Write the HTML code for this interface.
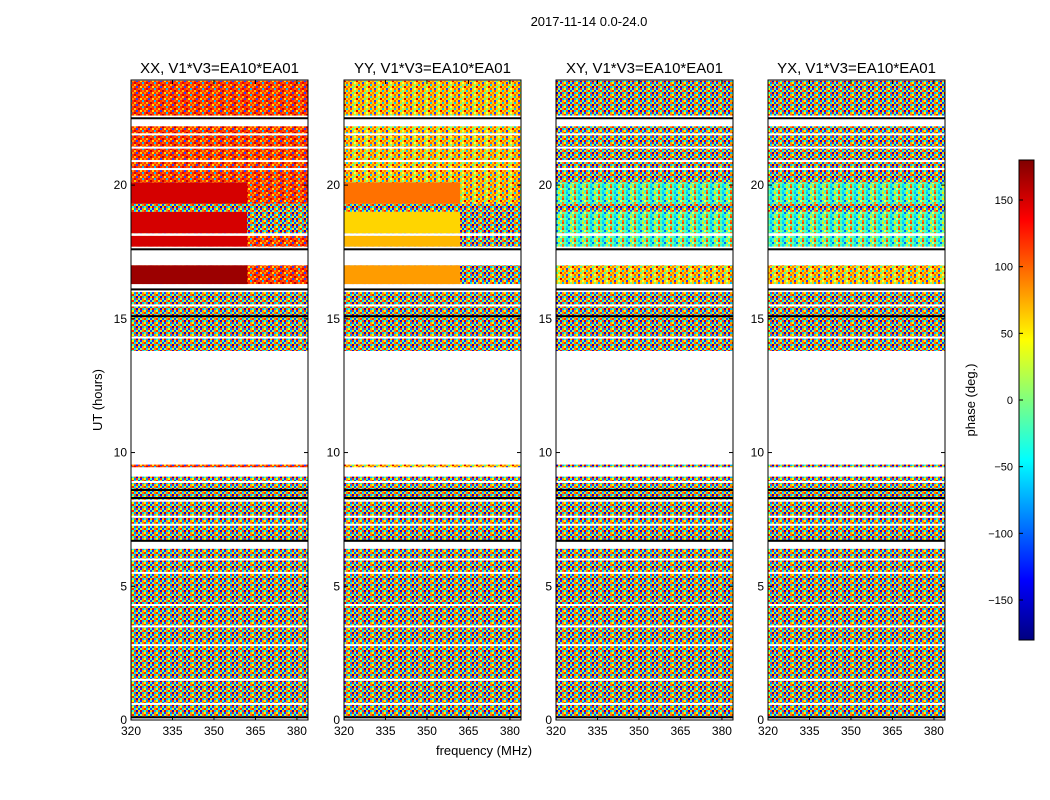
<!DOCTYPE html>
<html><head><meta charset="utf-8"><style>
body{margin:0;background:#fff;}
svg{display:block;font-family:"Liberation Sans","DejaVu Sans",sans-serif;}
</style></head><body>
<svg id="fig" width="1050" height="800" viewBox="0 0 1050 800">
<defs>
<pattern id="mixed" width="12" height="6" patternUnits="userSpaceOnUse">
<rect x="0" y="0" width="2" height="2" fill="#ff2000"/><rect x="2" y="0" width="2" height="2" fill="#00e0ff"/><rect x="4" y="0" width="2" height="2" fill="#ffe000"/><rect x="6" y="0" width="2" height="2" fill="#0040ff"/><rect x="8" y="0" width="2" height="2" fill="#80ff80"/><rect x="10" y="0" width="2" height="2" fill="#ff8000"/>
<rect x="0" y="2" width="2" height="2" fill="#40ffb0"/><rect x="2" y="2" width="2" height="2" fill="#ff6000"/><rect x="4" y="2" width="2" height="2" fill="#0000e0"/><rect x="6" y="2" width="2" height="2" fill="#ffc000"/><rect x="8" y="2" width="2" height="2" fill="#e00000"/><rect x="10" y="2" width="2" height="2" fill="#00b0ff"/>
<rect x="0" y="4" width="2" height="2" fill="#f0ff00"/><rect x="2" y="4" width="2" height="2" fill="#0080ff"/><rect x="4" y="4" width="2" height="2" fill="#ff3000"/><rect x="6" y="4" width="2" height="2" fill="#40ffc0"/><rect x="8" y="4" width="2" height="2" fill="#2020ff"/><rect x="10" y="4" width="2" height="2" fill="#ffa000"/>
</pattern>
<pattern id="warm" width="12" height="6" patternUnits="userSpaceOnUse">
<rect width="12" height="6" fill="#ff3000"/>
<rect x="2" y="0" width="2" height="2" fill="#ffc000"/><rect x="6" y="0" width="2" height="2" fill="#c00000"/><rect x="10" y="0" width="2" height="2" fill="#ff8000"/>
<rect x="0" y="2" width="2" height="2" fill="#ff9000"/><rect x="4" y="2" width="2" height="2" fill="#2040ff"/><rect x="8" y="2" width="2" height="2" fill="#ffe000"/>
<rect x="2" y="4" width="2" height="2" fill="#e00000"/><rect x="6" y="4" width="2" height="2" fill="#ff6000"/><rect x="10" y="4" width="2" height="2" fill="#00c0ff"/>
</pattern>
<pattern id="yel" width="12" height="6" patternUnits="userSpaceOnUse">
<rect width="12" height="6" fill="#ffd000"/>
<rect x="2" y="0" width="2" height="2" fill="#ff4000"/><rect x="6" y="0" width="2" height="2" fill="#80ff80"/><rect x="10" y="0" width="2" height="2" fill="#00c0ff"/>
<rect x="0" y="2" width="2" height="2" fill="#ff8000"/><rect x="4" y="2" width="2" height="2" fill="#40ffb0"/><rect x="8" y="2" width="2" height="2" fill="#e00000"/>
<rect x="2" y="4" width="2" height="2" fill="#2040ff"/><rect x="6" y="4" width="2" height="2" fill="#ffff40"/><rect x="10" y="4" width="2" height="2" fill="#ff6000"/>
</pattern>
<pattern id="cool" width="12" height="6" patternUnits="userSpaceOnUse">
<rect width="12" height="6" fill="#40ffc0"/>
<rect x="2" y="0" width="2" height="2" fill="#00c0ff"/><rect x="6" y="0" width="2" height="2" fill="#ffe000"/><rect x="10" y="0" width="2" height="2" fill="#ff4000"/>
<rect x="0" y="2" width="2" height="2" fill="#80ff80"/><rect x="4" y="2" width="2" height="2" fill="#0060ff"/><rect x="8" y="2" width="2" height="2" fill="#ffff40"/>
<rect x="2" y="4" width="2" height="2" fill="#00e0ff"/><rect x="6" y="4" width="2" height="2" fill="#a0ff60"/><rect x="10" y="4" width="2" height="2" fill="#ff8000"/>
</pattern>
<linearGradient id="jet" x1="0" y1="1" x2="0" y2="0">
<stop offset="0" stop-color="#000080"/><stop offset="0.125" stop-color="#0000ff"/><stop offset="0.375" stop-color="#00ffff"/><stop offset="0.625" stop-color="#ffff00"/><stop offset="0.875" stop-color="#ff0000"/><stop offset="1" stop-color="#800000"/>
</linearGradient>
</defs>
<text x="589" y="26" font-size="13" text-anchor="middle">2017-11-14 0.0-24.0</text>
<g id="panels"></g>
<text x="102" y="400" font-size="13" text-anchor="middle" transform="rotate(-90 102 400)">UT (hours)</text>
<text x="484" y="755" font-size="13" text-anchor="middle">frequency (MHz)</text>
<g id="cbar"></g>
<text x="975" y="400" font-size="13" text-anchor="middle" transform="rotate(-90 975 400)">phase (deg.)</text>
</svg>
<script>
const panelTitles = ["XX, V1*V3=EA10*EA01","YY, V1*V3=EA10*EA01","XY, V1*V3=EA10*EA01","YX, V1*V3=EA10*EA01"];
const panelLeft = [131,344,556,768];
const bandStart = [22.6,20.1,19.3,19.0,18.2,17.7,16.3,13.8,9.45,6.7,0.1];
const bandEnd   = [23.9,22.2,20.1,19.3,19.0,18.1,17.0,16.0,9.55,9.1,6.4];
const phaseXX = [null,null,150,null,150,150,170,null,null,null,null];
const phaseYY = [null,null,95,null,60,70,80,null,null,null,null];
const phaseXY = [null,null,null,null,null,null,null,null,null,null,null];
const phaseYX = [null,null,null,null,null,null,null,null,null,null,null];
const texXX = ["warm","warm","warm","mixed","mixed","warm","warm","mixed","warm","mixed","mixed"];
const texYY = ["yel","yel","yel","mixed","mixed","mixed","mixed","mixed","yel","mixed","mixed"];
const texXY = ["mixed","mixed","cool","mixed","cool","cool","yel","mixed","mixed","mixed","mixed"];
const texYX = ["mixed","mixed","cool","mixed","cool","cool","yel","mixed","mixed","mixed","mixed"];
const coherentMaxFreq = 362;
const gapHours = [21.9,21.4,20.9,20.6,15.5,14.3,8.9,8.2,7.6,7.3,6.0,5.5,4.3,3.5,2.8,1.5,0.6];
const blackHours = [22.5,17.6,16.1,15.1,8.6,8.3,6.7,0.1];
const yTicks = [0,5,10,15,20];
const xTicks = [320,335,350,365,380];
const cbTicks = [-150,-100,-50,0,50,100,150];
const phases = [phaseXX,phaseYY,phaseXY,phaseYX];
const texs = [texXX,texYY,texXY,texYX];

const NS="http://www.w3.org/2000/svg";
const pw=177, yTop=80, yBot=720, fMin=320, fMax=384, hMax=23.93;
function yS(h){return yBot-(yBot-yTop)*h/hMax;}
function xS(f,l){return l+pw*(f-fMin)/(fMax-fMin);}
function jet(v){const t=(v+180)/360;
 const c=x=>Math.max(0,Math.min(1,x));
 const r=c(1.5-Math.abs(4*t-3)),g=c(1.5-Math.abs(4*t-2)),b=c(1.5-Math.abs(4*t-1));
 return `rgb(${Math.round(r*255)},${Math.round(g*255)},${Math.round(b*255)})`;}
function mk(tag,attrs,parent){const e=document.createElementNS(NS,tag);for(const k in attrs)e.setAttribute(k,attrs[k]);parent.appendChild(e);return e;}
const P=document.getElementById('panels');
panelLeft.forEach((l,pi)=>{
 const g=mk('g',{},P);
 
 
 bandStart.forEach((s,bi)=>{
  const e=bandEnd[bi];
  const r=mk('rect',{x:l,y:yS(e),width:pw,height:yS(s)-yS(e),fill:'url(#'+texs[pi][bi]+')'},g);
  
  
  const v=phases[pi][bi];
  if(v!==null){
   const c=mk('rect',{x:l,y:yS(e),width:xS(coherentMaxFreq,l)-l,height:yS(s)-yS(e),fill:jet(v)},g);
   
   
  }
 });
 gapHours.forEach(h=>{const r=mk('rect',{x:l,y:yS(h)-1,width:pw,height:2,fill:'#fff'},g);
  
  });
 blackHours.forEach(h=>{const r=mk('rect',{x:l,y:yS(h)-1,width:pw,height:2,fill:'#000'},g);
  
  });
 const fr=mk('rect',{x:l,y:yTop,width:pw,height:yBot-yTop,fill:'none',stroke:'#000','stroke-width':1},g);
 
 
 const t=mk('text',{x:l+pw/2,y:73,'font-size':15,'text-anchor':'middle'},g);t.textContent=panelTitles[pi];
 
 
 yTicks.forEach(h=>{const y=yS(h);
  mk('line',{x1:l,x2:l+4,y1:y,y2:y,stroke:'#000'},g);mk('line',{x1:l+pw-4,x2:l+pw,y1:y,y2:y,stroke:'#000'},g);
  const tt=mk('text',{x:l-4,y:y+4,'font-size':12,'text-anchor':'end'},g);tt.textContent=h;
  
  });
 xTicks.forEach(f=>{const x=xS(f,l);
  mk('line',{x1:x,x2:x,y1:yBot,y2:yBot-4,stroke:'#000'},g);mk('line',{x1:x,x2:x,y1:yTop,y2:yTop+4,stroke:'#000'},g);
  const tt=mk('text',{x:x,y:yBot+15,'font-size':12,'text-anchor':'middle'},g);tt.textContent=f;
  
  });
});
const C=document.getElementById('cbar');
const cbX=1019,cbW=15,cbT=160,cbB=640;
function cbY(v){return cbB-(cbB-cbT)*(v+180)/360;}
mk('rect',{x:cbX,y:cbT,width:cbW,height:cbB-cbT,fill:'url(#jet)',stroke:'#000'},C);
cbTicks.forEach(v=>{const y=cbY(v);
 mk('line',{x1:cbX,x2:cbX+4,y1:y,y2:y,stroke:'#000'},C);
 const t=mk('text',{x:cbX-6,y:y+4,'font-size':11,'text-anchor':'end'},C);t.textContent=v.toString().replace('-','\u2212');
 
 });
</script>
</body></html>
